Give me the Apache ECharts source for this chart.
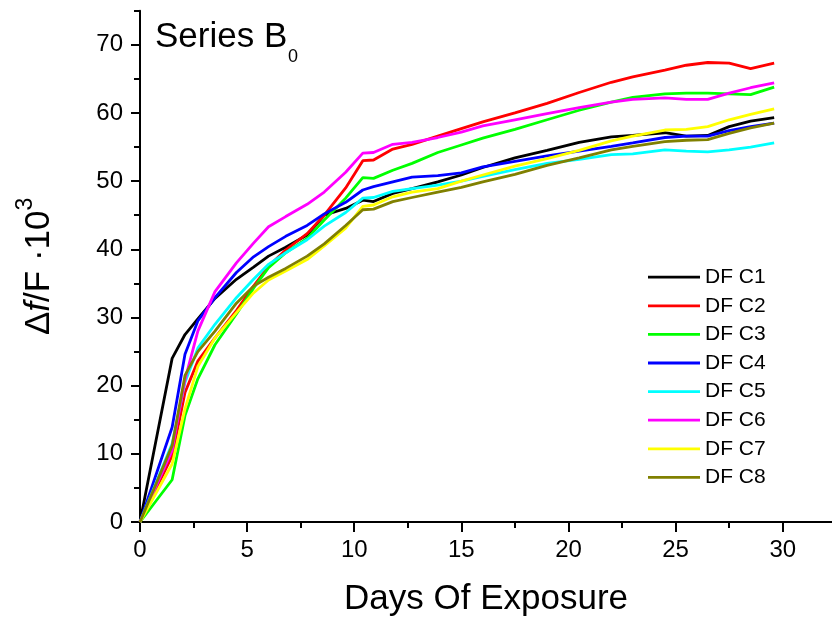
<!DOCTYPE html>
<html>
<head>
<meta charset="utf-8">
<script src="https://cdn.jsdelivr.net/npm/echarts@6/dist/echarts.min.js"></script>
<style>html,body{margin:0;padding:0;background:#fff}#c{width:832px;height:622px}</style>
</head>
<body>
<div id="c"></div>
<script>
const days = [0, 1.5, 2.1, 2.7, 3.5, 4.5, 5.3, 6, 6.8, 7.8, 8.6, 9.6, 10.4, 10.9, 11.8, 12.7, 13.9, 15, 16, 17.5, 19, 20.5, 22, 23, 24.5, 25.5, 26.5, 27.5, 28.5, 29.6];
const seriesNames = ['DF C1', 'DF C2', 'DF C3', 'DF C4', 'DF C5', 'DF C6', 'DF C7', 'DF C8'];
const seriesColors = ['#000000', '#ff0000', '#00ff00', '#0000ff', '#00ffff', '#ff00ff', '#ffff00', '#808000'];
const dfC1 = [0, 24.0, 27.5, 29.8, 32.8, 35.6, 37.4, 39.0, 40.3, 42.1, 45.0, 46.0, 47.2, 47.0, 48.2, 48.9, 49.9, 50.9, 52.0, 53.4, 54.5, 55.7, 56.5, 56.7, 57.1, 56.6, 56.7, 58.0, 58.8, 59.3];
const dfC2 = [0, 9.7, 19.0, 23.6, 27.0, 31.0, 34.6, 37.5, 39.9, 42.3, 45.0, 49.0, 53.0, 53.1, 54.7, 55.4, 56.6, 57.7, 58.7, 60.0, 61.4, 63.0, 64.5, 65.3, 66.3, 67.0, 67.4, 67.3, 66.5, 67.3];
const dfC3 = [0, 6.2, 15.6, 21.0, 26.0, 30.5, 34.3, 37.3, 39.5, 41.6, 44.3, 47.5, 50.5, 50.4, 51.6, 52.6, 54.2, 55.3, 56.3, 57.6, 59.0, 60.4, 61.6, 62.3, 62.8, 62.9, 62.9, 62.8, 62.7, 63.8];
const dfC4 = [0, 13.9, 24.6, 29.5, 32.9, 36.6, 38.9, 40.4, 41.9, 43.5, 45.2, 46.9, 48.7, 49.2, 49.9, 50.6, 50.8, 51.2, 52.1, 52.9, 53.7, 54.4, 55.1, 55.6, 56.4, 56.6, 56.6, 57.4, 58.0, 58.5];
const dfC5 = [0, 11.5, 20.5, 25.5, 29.0, 32.9, 35.6, 37.8, 39.5, 41.4, 43.4, 45.4, 47.5, 47.6, 48.5, 48.9, 49.4, 50.0, 50.7, 51.7, 52.6, 53.2, 53.9, 54.0, 54.6, 54.4, 54.3, 54.6, 55.0, 55.6];
const dfC6 = [0, 10.5, 20.9, 28.0, 33.8, 38.0, 40.9, 43.3, 44.8, 46.6, 48.4, 51.3, 54.1, 54.2, 55.4, 55.7, 56.4, 57.2, 58.1, 59.0, 59.9, 60.8, 61.6, 62.0, 62.2, 62.0, 62.0, 62.9, 63.7, 64.4];
const dfC7 = [0, 8.5, 16.6, 22.8, 27.0, 30.7, 33.6, 35.5, 36.8, 38.5, 40.5, 43.1, 46.3, 46.5, 47.7, 48.4, 48.9, 50.0, 50.9, 52.2, 53.3, 54.5, 55.9, 56.6, 57.5, 57.6, 58.0, 59.0, 59.8, 60.6];
const dfC8 = [0, 11.2, 21.5, 25.0, 28.0, 32.1, 34.6, 35.9, 37.2, 39.0, 40.8, 43.5, 45.8, 45.9, 47.0, 47.6, 48.4, 49.1, 49.9, 51.0, 52.3, 53.4, 54.6, 55.1, 55.8, 56.0, 56.1, 57.0, 57.8, 58.5];
const allValues = [dfC1, dfC2, dfC3, dfC4, dfC5, dfC6, dfC7, dfC8];
const xMajorTicks = [0, 5, 10, 15, 20, 25, 30];
const xMinorTicks = [2.5, 7.5, 12.5, 17.5, 22.5, 27.5];
const yMajorTicks = [0, 10, 20, 30, 40, 50, 60, 70];
const yMinorTicks = [5, 15, 25, 35, 45, 55, 65, 75];

const FF = 'Arial, "Liberation Sans", Helvetica, sans-serif';
const chart = echarts.init(document.getElementById('c'), null, {renderer: 'canvas'});

const axisBase = {
  type: 'value',
  splitLine: {show: false},
  axisLine: {show: true, onZero: false, lineStyle: {color: '#000', width: 2}}
};

// thin horizontal bar icon; tiny corner specks keep the 52x20 box
const lineIcon = 'path://M0,0L0.01,0L0,0.01Z M0,8.6L52,8.6L52,11.4L0,11.4Z M52,20L51.99,20L52,19.99Z';

const series = allValues.map((vals, i) => ({
  name: seriesNames[i],
  type: 'line',
  xAxisIndex: 0,
  yAxisIndex: 0,
  symbol: 'none',
  smooth: false,
  lineStyle: {color: seriesColors[i], width: 2.8},
  itemStyle: {color: seriesColors[i]},
  data: days.map((d, j) => [d, vals[j]])
}));

chart.setOption({
  animation: false,
  backgroundColor: '#fff',
  grid: {left: 140, right: 0, top: 10.7, bottom: 98.7, containLabel: false},
  xAxis: [
    Object.assign({}, axisBase, {
      min: 0, max: 32.3, position: 'bottom',
      axisTick: {show: true, inside: false, length: 10, lineStyle: {color: '#000', width: 2}, customValues: xMajorTicks},
      axisLabel: {show: true, customValues: xMajorTicks, fontSize: 24, color: '#000', fontFamily: FF, margin: 16},
      name: 'Days Of Exposure', nameLocation: 'middle', nameGap: 60,
      nameTextStyle: {fontSize: 35, color: '#000', fontFamily: FF}
    }),
    Object.assign({}, axisBase, {
      min: 0, max: 32.3, position: 'bottom',
      axisLine: {show: false},
      axisTick: {show: true, inside: false, length: 6, lineStyle: {color: '#000', width: 2}, customValues: xMinorTicks},
      axisLabel: {show: false}
    })
  ],
  yAxis: [
    Object.assign({}, axisBase, {
      min: 0, max: 75, position: 'left',
      axisTick: {show: true, inside: false, length: 9, lineStyle: {color: '#000', width: 2}, customValues: yMajorTicks},
      axisLabel: {show: true, customValues: yMajorTicks, fontSize: 24, color: '#000', fontFamily: FF, margin: 17},
      name: '{m|Δ}{i|f}{m|/F ·10}{sup|3}', nameLocation: 'middle', nameGap: 83, nameRotate: 90,
      nameTextStyle: {
        fontSize: 35, color: '#000', fontFamily: FF,
        rich: {
          m: {fontSize: 35, fontFamily: FF, color: '#000', lineHeight: 35, verticalAlign: 'bottom'},
          i: {fontSize: 35, fontFamily: FF, color: '#000', fontStyle: 'italic', lineHeight: 35, verticalAlign: 'bottom'},
          sup: {fontSize: 23, fontFamily: FF, color: '#000', lineHeight: 23, verticalAlign: 'bottom', padding: [0, 0, 20, 0]}
        }
      }
    }),
    Object.assign({}, axisBase, {
      min: 0, max: 75, position: 'left',
      axisLine: {show: false},
      axisTick: {show: true, inside: false, length: 6, lineStyle: {color: '#000', width: 2}, customValues: yMinorTicks},
      axisLabel: {show: false}
    })
  ],
  legend: {
    orient: 'vertical', left: 648, top: 266.7, padding: 0,
    itemWidth: 52, itemHeight: 20, itemGap: 7.6,
    icon: lineIcon,
    textStyle: {fontSize: 21, color: '#000', fontFamily: FF, lineHeight: 20},
    data: seriesNames
  },
  graphic: [
    {type: 'text', left: 155, top: 20, style: {text: 'Series B', fontSize: 35, fontFamily: FF, fill: '#000'}},
    {type: 'text', left: 288, top: 48, style: {text: '0', fontSize: 18, fontFamily: FF, fill: '#000'}}
  ],
  series: series
});
</script>
</body>
</html>
